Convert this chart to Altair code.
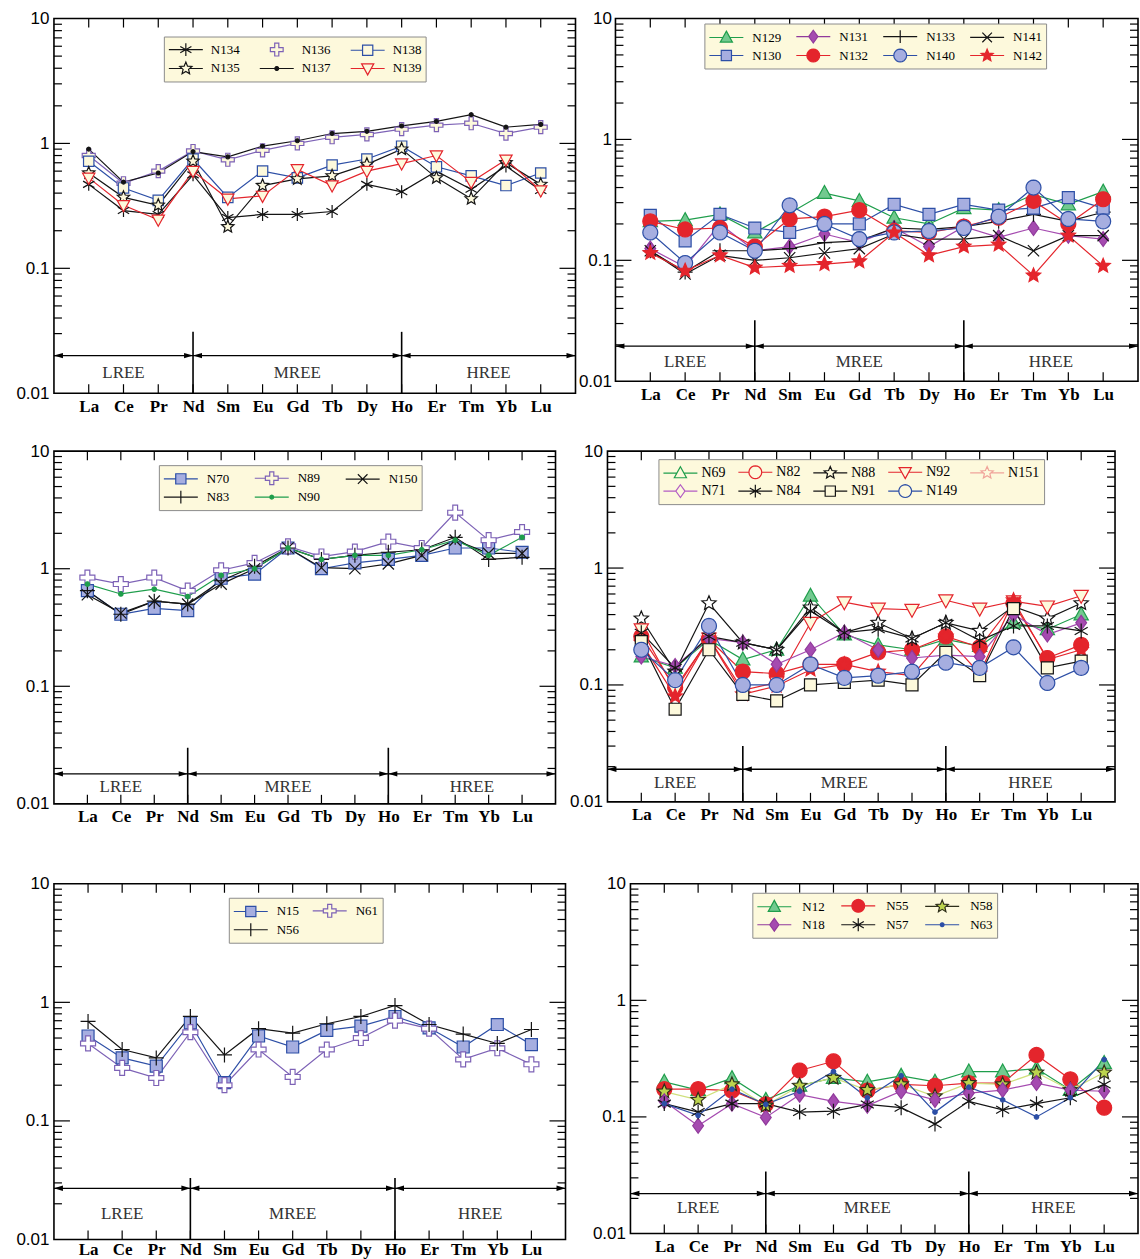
import math
import altair as alt
import pandas as pd

# ---------------------------------------------------------------- categories
ELEMENTS = ["La", "Ce", "Pr", "Nd", "Sm", "Eu", "Gd", "Tb", "Dy", "Ho", "Er", "Tm", "Yb", "Lu"]
Y_LABEL_VALUES = [0.01, 0.1, 1, 10]
MAJOR_TICKS = [0.1, 1]
MINOR_TICKS = [m * 10.0 ** e for e in (-2, -1, 0) for m in range(2, 10)]
BAND_NAMES = ["LREE", "MREE", "HREE"]
BAND_CENTRES = [2, 7, 12.5]
BAND_STARTS = [0, 4, 10]
BAND_ENDS = [4, 10, 15]
BAND_DIVIDERS = [4, 10]

# ---------------------------------------------------------------- panel (top-left)
N134 = [0.47, 0.29, 0.27, 0.56, 0.255, 0.27, 0.27, 0.285, 0.47, 0.41, 0.6, 0.43, 0.66, 0.42]
N135 = [0.58, 0.37, 0.32, 0.72, 0.215, 0.46, 0.52, 0.55, 0.68, 0.9, 0.53, 0.36, 0.7, 0.47]
N136 = [0.8, 0.48, 0.6, 0.87, 0.74, 0.88, 1.0, 1.12, 1.18, 1.3, 1.4, 1.45, 1.2, 1.35]
N137 = [0.9, 0.49, 0.58, 0.86, 0.78, 0.95, 1.05, 1.2, 1.25, 1.38, 1.5, 1.7, 1.35, 1.42]
N138 = [0.72, 0.44, 0.35, 0.75, 0.37, 0.6, 0.53, 0.67, 0.75, 0.95, 0.65, 0.55, 0.46, 0.58]
N139 = [0.53, 0.32, 0.245, 0.6, 0.36, 0.38, 0.62, 0.46, 0.6, 0.69, 0.8, 0.49, 0.74, 0.42]

# ---------------------------------------------------------------- panel (top-right)
N129 = [0.21, 0.215, 0.24, 0.17, 0.245, 0.36, 0.31, 0.225, 0.2, 0.27, 0.26, 0.35, 0.29, 0.37]
N130 = [0.235, 0.145, 0.24, 0.185, 0.17, 0.2, 0.2, 0.29, 0.24, 0.29, 0.26, 0.27, 0.33, 0.27]
N131 = [0.125, 0.088, 0.2, 0.12, 0.13, 0.165, 0.14, 0.185, 0.13, 0.19, 0.155, 0.185, 0.16, 0.15]
N132 = [0.21, 0.18, 0.185, 0.13, 0.22, 0.23, 0.26, 0.175, 0.17, 0.19, 0.225, 0.31, 0.2, 0.32]
N133 = [0.12, 0.08, 0.12, 0.12, 0.125, 0.14, 0.145, 0.185, 0.18, 0.19, 0.21, 0.24, 0.21, 0.25]
N140 = [0.17, 0.095, 0.17, 0.12, 0.285, 0.2, 0.15, 0.17, 0.175, 0.185, 0.23, 0.4, 0.22, 0.21]
N141 = [0.12, 0.077, 0.11, 0.1, 0.105, 0.115, 0.125, 0.165, 0.15, 0.15, 0.16, 0.12, 0.16, 0.16]
N142 = [0.115, 0.082, 0.11, 0.087, 0.09, 0.093, 0.098, 0.17, 0.11, 0.13, 0.135, 0.075, 0.16, 0.09]

# ---------------------------------------------------------------- panel (middle-left)
N70 = [0.65, 0.41, 0.46, 0.44, 0.83, 0.9, 1.5, 1.0, 1.12, 1.2, 1.3, 1.5, 1.5, 1.38]
N83 = [0.65, 0.41, 0.53, 0.5, 0.79, 1.05, 1.5, 1.2, 1.3, 1.38, 1.45, 1.85, 1.2, 1.25]
N89 = [0.84, 0.74, 0.84, 0.65, 0.97, 1.12, 1.55, 1.27, 1.4, 1.7, 1.5, 3.0, 1.75, 2.05]
N90 = [0.74, 0.61, 0.67, 0.58, 0.88, 1.0, 1.5, 1.2, 1.3, 1.3, 1.45, 1.75, 1.3, 1.85]
N150 = [0.6, 0.42, 0.53, 0.5, 0.74, 1.0, 1.5, 1.02, 1.0, 1.1, 1.3, 1.75, 1.35, 1.35]

# ---------------------------------------------------------------- panel (middle-right)
N69 = [0.175, 0.14, 0.245, 0.165, 0.2, 0.58, 0.27, 0.22, 0.2, 0.245, 0.215, 0.34, 0.3, 0.4]
N71 = [0.175, 0.145, 0.25, 0.23, 0.15, 0.2, 0.28, 0.2, 0.17, 0.18, 0.175, 0.4, 0.27, 0.34]
N82 = [0.26, 0.095, 0.245, 0.13, 0.125, 0.15, 0.15, 0.19, 0.2, 0.26, 0.21, 0.5, 0.17, 0.22]
N84 = [0.28, 0.14, 0.26, 0.23, 0.2, 0.43, 0.28, 0.3, 0.25, 0.34, 0.24, 0.32, 0.32, 0.29]
N88 = [0.37, 0.13, 0.5, 0.23, 0.2, 0.46, 0.28, 0.34, 0.25, 0.34, 0.29, 0.47, 0.37, 0.5]
N91 = [0.235, 0.062, 0.2, 0.083, 0.073, 0.1, 0.105, 0.11, 0.1, 0.19, 0.12, 0.45, 0.14, 0.16]
N92 = [0.3, 0.09, 0.25, 0.09, 0.105, 0.34, 0.51, 0.45, 0.44, 0.53, 0.45, 0.52, 0.47, 0.58]
N149 = [0.2, 0.11, 0.32, 0.1, 0.1, 0.15, 0.115, 0.12, 0.13, 0.155, 0.14, 0.21, 0.104, 0.14]
N151 = [0.23, 0.08, 0.25, 0.083, 0.098, 0.135, 0.15, 0.13, 0.12, 0.26, 0.125, 0.53, 0.165, 0.2]

# ---------------------------------------------------------------- panel (bottom-left)
N15 = [0.52, 0.34, 0.29, 0.67, 0.21, 0.52, 0.42, 0.58, 0.63, 0.76, 0.61, 0.42, 0.65, 0.44]
N56 = [0.69, 0.4, 0.34, 0.76, 0.36, 0.6, 0.55, 0.66, 0.76, 0.94, 0.65, 0.54, 0.45, 0.59]
N61 = [0.45, 0.28, 0.23, 0.56, 0.2, 0.4, 0.235, 0.4, 0.5, 0.7, 0.6, 0.33, 0.41, 0.3]

# ---------------------------------------------------------------- panel (bottom-right)
N12 = [0.2, 0.17, 0.215, 0.14, 0.185, 0.216, 0.2, 0.225, 0.2, 0.245, 0.245, 0.26, 0.17, 0.29]
N18 = [0.136, 0.084, 0.13, 0.099, 0.155, 0.136, 0.125, 0.166, 0.14, 0.16, 0.17, 0.195, 0.17, 0.166]
N55 = [0.173, 0.173, 0.168, 0.128, 0.25, 0.3, 0.168, 0.19, 0.185, 0.195, 0.195, 0.34, 0.21, 0.12]
N57 = [0.13, 0.11, 0.13, 0.13, 0.11, 0.112, 0.128, 0.12, 0.087, 0.136, 0.115, 0.13, 0.146, 0.19]
N58 = [0.165, 0.14, 0.19, 0.125, 0.185, 0.216, 0.17, 0.19, 0.15, 0.195, 0.19, 0.24, 0.17, 0.24]
N63 = [0.13, 0.103, 0.173, 0.128, 0.166, 0.245, 0.146, 0.225, 0.11, 0.18, 0.14, 0.1, 0.146, 0.31]

DATA = {
    "N134": N134, "N135": N135, "N136": N136, "N137": N137, "N138": N138, "N139": N139,
    "N129": N129, "N130": N130, "N131": N131, "N132": N132, "N133": N133, "N140": N140,
    "N141": N141, "N142": N142,
    "N70": N70, "N83": N83, "N89": N89, "N90": N90, "N150": N150,
    "N69": N69, "N71": N71, "N82": N82, "N84": N84, "N88": N88, "N91": N91, "N92": N92,
    "N149": N149, "N151": N151,
    "N15": N15, "N56": N56, "N61": N61,
    "N12": N12, "N18": N18, "N55": N55, "N57": N57, "N58": N58, "N63": N63,
}

# ---------------------------------------------------------------- styles
BG = "#fdf9dc"
NONE = "transparent"
WHITE = "#ffffff"
K = "#141414"
PUR = "#7d62b6"
BLU = "#2d4fa6"
LBF = "#a6aee0"
RED = "#e4252c"
GRN = "#1f9e4c"
GRF = "#72c98f"
MAG = "#913a9c"
MAGF = "#a54bb0"
YG = "#bcd44e"
YGL = "#cfe07c"
SERIF = "Liberation Serif"
SANS = "Liberation Sans"

# name: (marker, line colour, marker stroke, marker fill)
STYLE = {
    "N134": ("asterisk", K, K, NONE),
    "N135": ("star", K, K, BG),
    "N136": ("cross", PUR, PUR, BG),
    "N137": ("dot", K, K, K),
    "N138": ("square", BLU, BLU, BG),
    "N139": ("tri_down", RED, RED, BG),
    "N129": ("tri_up", GRN, GRN, GRF),
    "N130": ("square", BLU, BLU, LBF),
    "N131": ("diamond", MAGF, MAG, MAGF),
    "N132": ("circle", RED, RED, RED),
    "N133": ("plus", K, K, NONE),
    "N140": ("circle", BLU, BLU, LBF),
    "N141": ("x", K, K, NONE),
    "N142": ("star", RED, RED, RED),
    "N70": ("square", BLU, BLU, LBF),
    "N83": ("plus", K, K, NONE),
    "N89": ("cross", PUR, PUR, WHITE),
    "N90": ("dot", GRN, GRN, GRN),
    "N150": ("x", K, K, NONE),
    "N69": ("tri_up", GRN, GRN, GRF),
    "N71": ("diamond", MAGF, MAG, MAGF),
    "N82": ("circle", RED, RED, RED),
    "N84": ("asterisk", K, K, NONE),
    "N88": ("star", K, K, WHITE),
    "N91": ("square", K, K, BG),
    "N92": ("tri_down", RED, RED, BG),
    "N149": ("circle", BLU, BLU, LBF),
    "N151": ("star", RED, RED, RED),
    "N15": ("square", BLU, BLU, LBF),
    "N56": ("plus", K, K, NONE),
    "N61": ("cross", PUR, PUR, WHITE),
    "N12": ("tri_up", GRN, GRN, GRF),
    "N18": ("diamond", MAGF, MAG, MAGF),
    "N55": ("circle", RED, RED, RED),
    "N57": ("asterisk", K, K, NONE),
    "N58": ("star", YGL, "#2e2e1a", YG),
    "N63": ("dot", BLU, BLU, BLU),
}
# legend symbols that differ from the plotted symbols
LEGEND_OVERRIDE = {
    "N136": dict(line=False),
    "N69": dict(fill=NONE),
    "N71": dict(fill=NONE, stroke="#b35cc4"),
    "N82": dict(fill=NONE),
    "N149": dict(fill=NONE),
    "N151": dict(fill=NONE, stroke="#f0a49a"),
}


# ---------------------------------------------------------------- symbol paths
def ring(n=20, r=1.0):
    return [(r * math.cos(2 * math.pi * i / n), r * math.sin(2 * math.pi * i / n)) for i in range(n)]


def star_points(r_out=1.0, r_in=0.45):
    pts = []
    for i in range(10):
        a = -math.pi / 2 + i * math.pi / 5
        r = r_out if i % 2 == 0 else r_in
        pts.append((r * math.cos(a), r * math.sin(a)))
    return pts


GEOMETRY = {
    "circle": ("poly", [ring()], 1.0),
    "dot": ("poly", [ring(12, 0.3)], 0.0),
    "square": ("poly", [[(-0.8, -0.8), (0.8, -0.8), (0.8, 0.8), (-0.8, 0.8)]], 0.8),
    "tri_up": ("poly", [[(0, -1), (0.95, 0.72), (-0.95, 0.72)]], 0.55),
    "tri_down": ("poly", [[(0, 1), (0.95, -0.72), (-0.95, -0.72)]], 0.55),
    "diamond": ("poly", [[(0, -1), (0.72, 0), (0, 1), (-0.72, 0)]], 0.72),
    "cross": ("poly", [[(-0.32, -1), (0.32, -1), (0.32, -0.32), (1, -0.32), (1, 0.32), (0.32, 0.32),
                        (0.32, 1), (-0.32, 1), (-0.32, 0.32), (-1, 0.32), (-1, -0.32), (-0.32, -0.32)]], 1.0),
    "star": ("poly", [star_points()], 0.58),
    "plus": ("seg", [((-1, 0), (1, 0)), ((0, -1), (0, 1))], 0.0),
    "x": ("seg", [((-0.75, -0.75), (0.75, 0.75)), ((-0.75, 0.75), (0.75, -0.75))], 0.0),
    "asterisk": ("seg", [((0, -1), (0, 1)), ((-0.87, -0.5), (0.87, 0.5)), ((-0.87, 0.5), (0.87, -0.5))], 0.0),
}


def f3(v):
    return f"{v:.3f}"


def marker_path(kind, s=1.0, dx=0.0):
    typ, parts, _ = GEOMETRY[kind]
    out = ""
    if typ == "poly":
        for p in parts:
            out += "M" + "L".join(f"{f3(x * s + dx)},{f3(y * s)}" for x, y in p) + "Z"
    else:
        for a, b in parts:
            out += f"M{f3(a[0] * s + dx)},{f3(a[1] * s)}L{f3(b[0] * s + dx)},{f3(b[1] * s)}"
    return out


LEG_L0, LEG_L1, LEG_C, LEG_M = -1.0, 3.25, 1.125, 0.8
LEG_SYMBOL_SIZE = 256


def legend_path(kind, with_line=True):
    mp = marker_path(kind, LEG_M, LEG_C)
    if not with_line:
        return mp
    gap = GEOMETRY[kind][2] * LEG_M
    if gap > 0:
        line = f"M{f3(LEG_L0)},0L{f3(LEG_C - gap)},0M{f3(LEG_C + gap)},0L{f3(LEG_L1)},0"
    else:
        line = f"M{f3(LEG_L0)},0L{f3(LEG_L1)},0"
    return line + mp


LEFT_HEAD = "M0,0L2,-0.6L2,0.6Z"
RIGHT_HEAD = "M0,0L-2,-0.6L-2,0.6Z"
LABEL_EXPR = "[" + ",".join(f"'{e}'" for e in ELEMENTS) + "][datum.value - 1]"

# ---------------------------------------------------------------- panel layout
PANELS = {
    "a": dict(order=["N134", "N136", "N138", "N135", "N137", "N139"], w=522, h=375, yext=53, xext=47,
              lpad=5, xpad=5, msize=169, cols=3, lx=110, ly=18, lfs=13, lo=25, cp=17,
              band=(0.02, 0.031, 0.0145)),
    "b": dict(order=["N129", "N131", "N133", "N141", "N130", "N132", "N140", "N142"], w=523, h=363,
              yext=37, xext=0, lpad=4, xpad=5, msize=225, cols=4, lx=89, ly=5, lfs=13, lo=26, cp=12,
              band=(0.0195, 0.032, 0.0145)),
    "c": dict(order=["N70", "N89", "N150", "N83", "N90"], w=502, h=353, yext=53, xext=69, lpad=5,
              xpad=5, msize=225, cols=3, lx=105, ly=14, lfs=13, lo=26, cp=22,
              band=(0.018, 0.03, 0.014)),
    "d": dict(order=["N69", "N82", "N88", "N92", "N151", "N71", "N84", "N91", "N149"], w=508, h=351,
              yext=49, xext=0, lpad=5, xpad=5, msize=225, cols=5, lx=51, ly=8, lfs=14, lo=21, cp=9,
              band=(0.019, 0.03, 0.0145)),
    "e": dict(order=["N15", "N61", "N56"], w=512, h=356, yext=53, xext=0, lpad=5, xpad=2, msize=225,
              cols=2, lx=175, ly=14, lfs=13, lo=26, cp=10, band=(0.027, 0.033, 0.0165)),
    "f": dict(order=["N12", "N55", "N58", "N18", "N57", "N63"], w=508, h=350, yext=62, xext=0, lpad=5,
              xpad=5, msize=225, cols=3, lx=122, ly=9, lfs=13, lo=28, cp=13,
              band=(0.022, 0.034, 0.0165)),
}


def make_panel(cfg):
    W, H = cfg["w"], cfg["h"]
    order = cfg["order"]
    rows = [{"s": n, "x": i + 1, "v": v} for n in order for i, v in enumerate(DATA[n])]
    df = pd.DataFrame(rows)

    xs = alt.Scale(domain=[0, 15], nice=False, zero=False)
    ys = alt.Scale(type="log", domain=[0.01, 10], nice=False)

    x_axis = alt.Axis(values=list(range(1, 15)), labelExpr=LABEL_EXPR, ticks=False, domain=False,
                      grid=False, labelFont=SERIF, labelFontWeight="bold", labelFontSize=17,
                      labelColor="black", labelPadding=cfg["xpad"], labelOverlap=False,
                      labelFlush=False, title=None, minExtent=cfg["xext"])
    y_axis = alt.Axis(values=Y_LABEL_VALUES, format="~g", ticks=False, domain=False, grid=False,
                      labelFont=SANS, labelFontSize=17, labelColor="black", labelPadding=cfg["lpad"],
                      labelOverlap=False, title=None, minExtent=cfg["yext"])

    def X(f):
        return alt.X(f, scale=xs, axis=x_axis)

    def Y(f):
        return alt.Y(f, scale=ys, axis=y_axis)

    def sc(values):
        return alt.Scale(domain=order, range=values)

    lines = alt.Chart(df).mark_line(strokeWidth=1.2).encode(
        x=X("x:Q"), y=Y("v:Q"),
        stroke=alt.Stroke("s:N", scale=sc([STYLE[n][1] for n in order]), legend=None),
    )

    pts = alt.Chart(df).mark_point(opacity=1, strokeWidth=1.2, size=cfg["msize"]).encode(
        x=X("x:Q"), y=Y("v:Q"),
        shape=alt.Shape("s:N", scale=sc([marker_path(STYLE[n][0]) for n in order]), legend=None),
        stroke=alt.Stroke("s:N", scale=sc([STYLE[n][2] for n in order]), legend=None),
        fill=alt.Fill("s:N", scale=sc([STYLE[n][3] for n in order]), legend=None),
    )

    leg_paths, leg_strokes, leg_fills = [], [], []
    for n in order:
        kind, _, stroke, fill = STYLE[n]
        ov = LEGEND_OVERRIDE.get(n, {})
        leg_paths.append(legend_path(kind, ov.get("line", True)))
        leg_strokes.append(ov.get("stroke", stroke))
        default_fill = NONE if fill in (BG, WHITE) else fill
        leg_fills.append(ov.get("fill", default_fill))

    legend = alt.Legend(title=None, orient="none", legendX=cfg["lx"], legendY=cfg["ly"],
                        direction="horizontal", columns=cfg["cols"], symbolSize=LEG_SYMBOL_SIZE,
                        symbolStrokeWidth=1.2, symbolOpacity=1, labelFont=SERIF,
                        labelFontSize=cfg["lfs"], labelColor="black", labelOffset=cfg["lo"],
                        fillColor=BG, strokeColor="#8c8c8c", padding=4, rowPadding=1,
                        columnPadding=cfg["cp"], cornerRadius=0)
    leg_layer = alt.Chart(df).transform_filter("false").mark_point(opacity=1, strokeWidth=1.2).encode(
        fill=alt.Fill("s:N", scale=sc(leg_fills), legend=legend),
        stroke=alt.Stroke("s:N", scale=sc(leg_strokes), legend=legend),
        shape=alt.Shape("s:N", scale=sc(leg_paths), legend=legend),
    )

    # inward frame ticks
    tx = pd.DataFrame({"x": list(range(1, 15))})
    tmaj = pd.DataFrame({"v": MAJOR_TICKS})
    tmin = pd.DataFrame({"v": MINOR_TICKS})
    rule = dict(color="black", strokeWidth=1.2)
    ticks = [
        alt.Chart(tx).mark_rule(**rule).encode(x=X("x:Q"), y=alt.value(0), y2=alt.value(9)),
        alt.Chart(tx).mark_rule(**rule).encode(x=X("x:Q"), y=alt.value(H), y2=alt.value(H - 9)),
        alt.Chart(tmaj).mark_rule(**rule).encode(y=Y("v:Q"), x=alt.value(0), x2=alt.value(16)),
        alt.Chart(tmaj).mark_rule(**rule).encode(y=Y("v:Q"), x=alt.value(W), x2=alt.value(W - 16)),
        alt.Chart(tmin).mark_rule(**rule).encode(y=Y("v:Q"), x=alt.value(0), x2=alt.value(8)),
        alt.Chart(tmin).mark_rule(**rule).encode(y=Y("v:Q"), x=alt.value(W), x2=alt.value(W - 8)),
    ]

    # LREE / MREE / HREE band
    ay, vt, ly = cfg["band"]
    arrows = pd.DataFrame({"x1": BAND_STARTS, "x2": BAND_ENDS, "v": [ay] * 3})
    lheads = pd.DataFrame({"x": BAND_STARTS, "v": [ay] * 3})
    rheads = pd.DataFrame({"x": BAND_ENDS, "v": [ay] * 3})
    divs = pd.DataFrame({"x": BAND_DIVIDERS, "v0": [0.01] * 2, "v1": [vt] * 2})
    labs = pd.DataFrame({"x": BAND_CENTRES, "v": [ly] * 3, "t": BAND_NAMES})
    band = [
        alt.Chart(arrows).mark_rule(color="black", strokeWidth=1.3).encode(
            x=X("x1:Q"), x2="x2:Q", y=Y("v:Q")),
        alt.Chart(lheads).mark_point(shape=LEFT_HEAD, filled=True, size=81, color="black",
                                     opacity=1).encode(x=X("x:Q"), y=Y("v:Q")),
        alt.Chart(rheads).mark_point(shape=RIGHT_HEAD, filled=True, size=81, color="black",
                                     opacity=1).encode(x=X("x:Q"), y=Y("v:Q")),
        alt.Chart(divs).mark_rule(color="black", strokeWidth=1.6).encode(
            x=X("x:Q"), y=Y("v0:Q"), y2="v1:Q"),
        alt.Chart(labs).mark_text(font=SERIF, fontSize=17, color="#333333", baseline="middle").encode(
            x=X("x:Q"), y=Y("v:Q"), text="t:N"),
    ]

    layers = [lines] + ticks + band + [pts, leg_layer]
    return alt.layer(*layers).properties(width=W, height=H).resolve_scale(
        shape="independent", stroke="independent", fill="independent")


row1 = alt.hconcat(make_panel(PANELS["a"]), make_panel(PANELS["b"]), spacing=0)
row2 = alt.hconcat(make_panel(PANELS["c"]), make_panel(PANELS["d"]), spacing=0)
row3 = alt.hconcat(make_panel(PANELS["e"]), make_panel(PANELS["f"]), spacing=0)

chart = alt.vconcat(row1, row2, row3, spacing=0).properties(
    padding={"left": 0, "top": 8, "right": 0, "bottom": 0},
    background="white",
).configure_view(stroke="black", strokeWidth=1.6, fill=BG)

chart.save("out.html", embed_options={"renderer": "svg", "actions": False})
